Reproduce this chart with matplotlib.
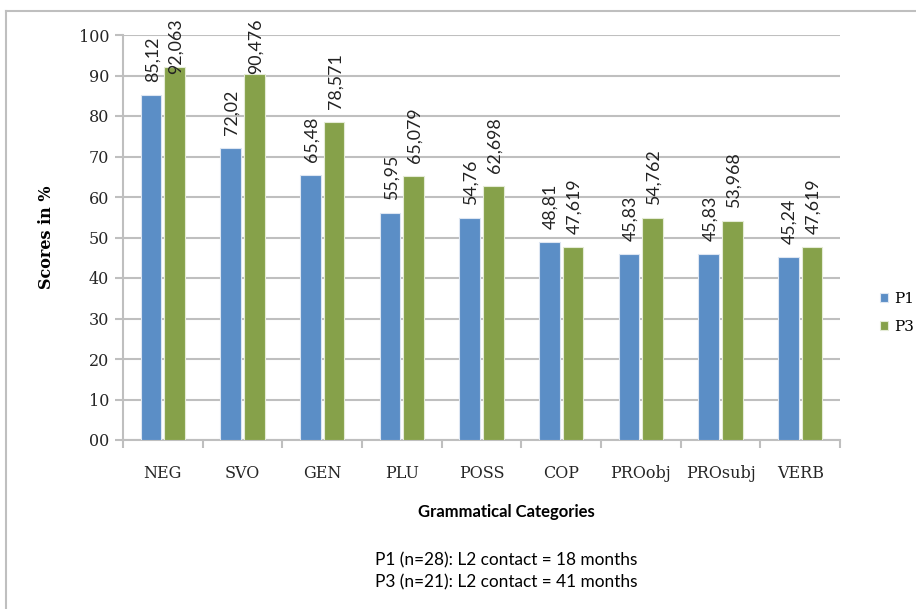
import matplotlib
matplotlib.use("Agg")
import matplotlib.pyplot as plt
from matplotlib.lines import Line2D
import numpy as np

categories = ["NEG", "SVO", "GEN", "PLU", "POSS", "COP", "PROobj", "PROsubj", "VERB"]
p1_values = [85.12, 72.02, 65.48, 55.95, 54.76, 48.81, 45.83, 45.83, 45.24]
p3_values = [92.063, 90.476, 78.571, 65.079, 62.698, 47.619, 54.762, 53.968, 47.619]
p1_labels = ["85,12", "72,02", "65,48", "55,95", "54,76", "48,81", "45,83", "45,83", "45,24"]
p3_labels = ["92,063", "90,476", "78,571", "65,079", "62,698", "47,619", "54,762", "53,968", "47,619"]
series_names = ["P1", "P3"]
y_ticks = [0, 10, 20, 30, 40, 50, 60, 70, 80, 90, 100]
y_tick_labels = ["00", "10", "20", "30", "40", "50", "60", "70", "80", "90", "100"]
note_lines = ["P1 (n=28): L2 contact = 18 months", "P3 (n=21): L2 contact = 41 months"]

BLUE = "#5B8EC6"
GREEN = "#86A14A"
GRID = "#BFBFBF"
SERIF = "DejaVu Serif"
SANS = "Lato"

W, H = 916, 609
fig = plt.figure(figsize=(W / 100, H / 100), dpi=100)
fig.patch.set_facecolor("white")

# chart frame (left and top edges of the embedded chart box)
fig.add_artist(Line2D([5.5 / W, 5.5 / W], [0, 1 - 11 / H], color=GRID, lw=1.5))
fig.add_artist(Line2D([5.5 / W, 1], [1 - 11 / H, 1 - 11 / H], color=GRID, lw=1.5))

left, right = 123 / W, 840 / W
bottom, top = 1 - 440 / H, 1 - 35 / H
ax = fig.add_axes([left, bottom, right - left, top - bottom])

x = np.arange(len(categories))
bw = 0.26
off = 0.148
bars1 = ax.bar(x - off, p1_values, bw, color=BLUE, edgecolor="#DDE6F2", linewidth=0.8,
               zorder=3, label=series_names[0])
bars2 = ax.bar(x + off, p3_values, bw, color=GREEN, edgecolor="#E4EBD6", linewidth=0.8,
               zorder=3, label=series_names[1])

ax.set_xlim(-0.5, len(categories) - 0.5)
ax.set_ylim(0, 100)
ax.set_yticks(y_ticks)
ax.set_yticklabels(y_tick_labels, fontfamily=SERIF, fontsize=11.5, color="#262626")
ax.yaxis.grid(True, color=GRID, lw=1.5, zorder=0)
ax.set_axisbelow(True)

ax.set_xticks(x)
ax.set_xticklabels(categories, fontfamily=SERIF, fontsize=11.5, color="#262626")
ax.tick_params(axis="x", length=0, pad=18)
ax.set_xticks(np.arange(len(categories) + 1) - 0.5, minor=True)
ax.tick_params(axis="x", which="minor", length=6, color=GRID, width=1.5)
ax.tick_params(axis="y", length=6, color=GRID, width=1.5, pad=4)

for s in ["top", "right"]:
    ax.spines[s].set_visible(False)
for s in ["left", "bottom"]:
    ax.spines[s].set_color(GRID)
    ax.spines[s].set_linewidth(1.5)

# rotated value labels above each bar
texts = []
for bars, labels in ((bars1, p1_labels), (bars2, p3_labels)):
    for b, lab in zip(bars, labels):
        t = ax.annotate(lab, (b.get_x() + b.get_width() / 2, b.get_height()),
                        xytext=(1, 9.5), textcoords="offset points",
                        rotation=90, ha="center", va="bottom",
                        fontfamily=SANS, fontsize=12.8, color="#222222",
                        annotation_clip=False, zorder=5)
        texts.append(t)

# keep labels inside the chart box
fig.canvas.draw()
renderer = fig.canvas.get_renderer()
limit_px = H - 18
for t in texts:
    bb = t.get_window_extent(renderer)
    if bb.y1 > limit_px:
        shift = (bb.y1 - limit_px) * 72 / 100
        ox, oy = t.xyann
        t.xyann = (ox, oy - shift)

ax.set_ylabel("Scores in %", fontfamily=SERIF, fontweight="bold", fontsize=11.5)
ax.yaxis.set_label_coords(-68 / (840 - 123), 0.5)

fig.text(506 / W, 1 - 512 / H, "Grammatical Categories", ha="center", va="center",
         fontfamily=SANS, fontweight="bold", fontsize=12)
fig.text(506 / W, 1 - 560 / H, note_lines[0], ha="center", va="center",
         fontfamily=SANS, fontsize=12.4)
fig.text(506 / W, 1 - 582 / H, note_lines[1], ha="center", va="center",
         fontfamily=SANS, fontsize=12.4)

leg = fig.legend(handles=[bars1, bars2], labels=series_names, loc="center left",
                 bbox_to_anchor=(866 / W, 1 - 313 / H), frameon=False,
                 prop={"family": SERIF, "size": 11}, handlelength=0.55, handleheight=0.55,
                 handletextpad=0.4, labelspacing=0.9)

fig.savefig("out.png", dpi=100)
